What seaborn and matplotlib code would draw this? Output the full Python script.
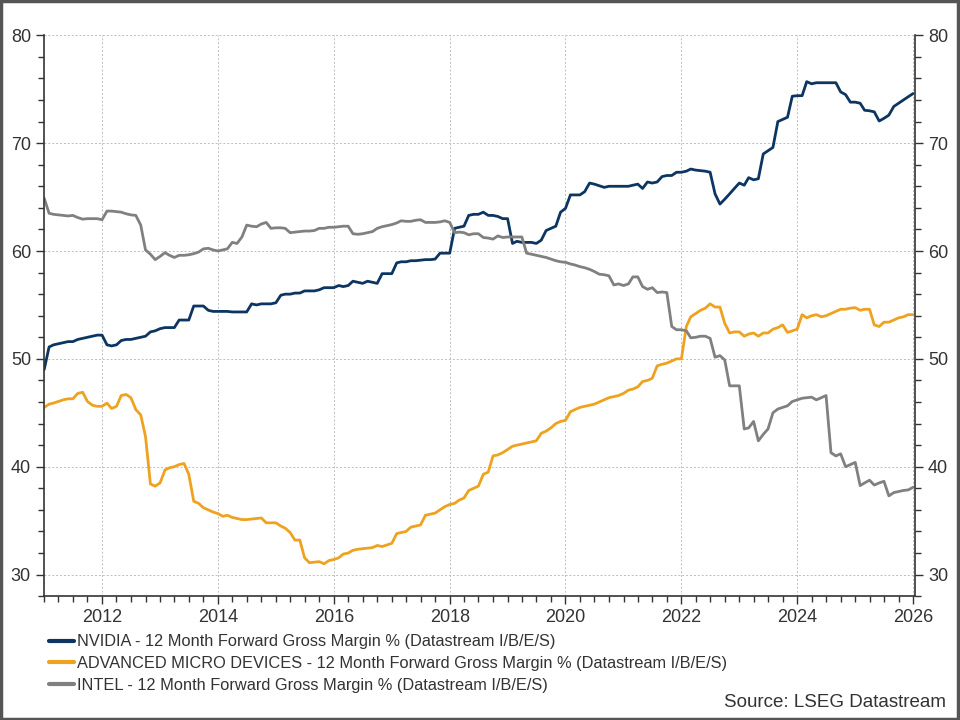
#!/usr/bin/env python3
"""Forward gross margin: NVIDIA vs AMD vs Intel, monthly, 2011-2026."""

import matplotlib
matplotlib.use("Agg")
import matplotlib.dates as mdates
import matplotlib.pyplot as plt
from matplotlib.patches import Rectangle
import numpy as np
import pandas as pd
import seaborn as sns

START = "2011-01-01"

# monthly values, one row per year (Jan..Dec), last row = Jan 2026
nvidia = [
    49.0, 51.1, 51.3, 51.4, 51.5, 51.6, 51.6, 51.8, 51.9, 52.0, 52.1, 52.2,
    52.2, 51.3, 51.2, 51.3, 51.7, 51.8, 51.8, 51.9, 52.0, 52.1, 52.5, 52.6,
    52.8, 52.9, 52.9, 52.9, 53.6, 53.6, 53.6, 54.9, 54.9, 54.9, 54.5, 54.4,
    54.4, 54.4, 54.4, 54.35, 54.35, 54.35, 54.35, 55.1, 55.0, 55.1, 55.1, 55.1,
    55.2, 55.9, 56.0, 56.0, 56.1, 56.1, 56.3, 56.3, 56.3, 56.4, 56.6, 56.6,
    56.6, 56.8, 56.7, 56.8, 57.2, 57.1, 57.0, 57.2, 57.1, 57.0, 57.9, 57.9,
    57.9, 58.9, 59.0, 59.0, 59.1, 59.1, 59.15, 59.2, 59.2, 59.25, 59.8, 59.8,
    59.8, 62.1, 62.2, 62.3, 63.3, 63.4, 63.4, 63.6, 63.3, 63.3, 63.2, 63.0,
    63.0, 60.7, 60.9, 60.8, 60.8, 60.8, 60.7, 61.0, 61.9, 62.1, 62.3, 63.6,
    63.95, 65.2, 65.2, 65.2, 65.5, 66.3, 66.2, 66.05, 65.9, 66.0, 66.0, 66.0,
    66.0, 66.0, 66.1, 66.2, 65.8, 66.4, 66.3, 66.4, 66.9, 67.0, 67.0, 67.3,
    67.3, 67.4, 67.6, 67.5, 67.45, 67.4, 67.3, 65.3, 64.35, 64.8, 65.3, 65.8,
    66.3, 66.1, 66.8, 66.6, 66.7, 69.0, 69.3, 69.6, 72.0, 72.2, 72.4, 74.35,
    74.4, 74.4, 75.7, 75.5, 75.6, 75.6, 75.6, 75.6, 75.6, 74.75, 74.5, 73.8,
    73.8, 73.7, 73.05, 73.0, 72.9, 72.05, 72.3, 72.6, 73.4, 73.7, 74.0, 74.3,
    74.6,
]

amd = [
    45.5, 45.8, 45.9, 46.05, 46.2, 46.3, 46.3, 46.8, 46.9, 46.05, 45.7, 45.6,
    45.6, 45.9, 45.4, 45.6, 46.6, 46.7, 46.4, 45.3, 44.8, 42.8, 38.4, 38.2,
    38.5, 39.7, 39.9, 40.0, 40.2, 40.3, 39.3, 36.8, 36.6, 36.2, 36.0, 35.8,
    35.65, 35.4, 35.5, 35.3, 35.2, 35.1, 35.1, 35.15, 35.2, 35.25, 34.8, 34.8,
    34.8, 34.5, 34.3, 33.9, 33.2, 33.2, 31.55, 31.1, 31.15, 31.2, 31.0, 31.3,
    31.4, 31.55, 31.9, 32.0, 32.25, 32.35, 32.4, 32.45, 32.5, 32.7, 32.6, 32.75,
    32.9, 33.8, 33.9, 34.0, 34.4, 34.5, 34.6, 35.5, 35.6, 35.7, 36.0, 36.3,
    36.5, 36.6, 36.9, 37.1, 37.8, 38.0, 38.2, 39.3, 39.5, 41.0, 41.1, 41.3,
    41.6, 41.9, 42.0, 42.1, 42.2, 42.3, 42.4, 43.1, 43.3, 43.6, 44.0, 44.2,
    44.3, 45.1, 45.3, 45.5, 45.6, 45.7, 45.8, 46.0, 46.2, 46.4, 46.5, 46.6,
    46.8, 47.1, 47.2, 47.4, 47.9, 48.0, 48.2, 49.35, 49.5, 49.6, 49.8, 50.0,
    50.0, 53.0, 53.9, 54.2, 54.5, 54.7, 55.1, 54.8, 54.8, 53.3, 52.4, 52.5,
    52.5, 52.1, 52.3, 52.4, 52.1, 52.4, 52.4, 52.75, 52.9, 53.15, 52.45, 52.6,
    52.75, 54.1, 53.8, 54.0, 54.1, 53.9, 54.0, 54.2, 54.4, 54.6, 54.6, 54.7,
    54.75, 54.5, 54.6, 54.6, 53.15, 53.0, 53.4, 53.4, 53.6, 53.8, 53.9, 54.1,
    54.1,
]

intel = [
    64.9, 63.5, 63.4, 63.35, 63.3, 63.25, 63.3, 63.1, 62.95, 63.0, 63.0, 63.0,
    62.9, 63.7, 63.7, 63.65, 63.6, 63.45, 63.35, 63.3, 62.4, 60.1, 59.7, 59.2,
    59.5, 59.85, 59.6, 59.4, 59.6, 59.6, 59.65, 59.75, 59.9, 60.2, 60.25, 60.1,
    60.0, 60.1, 60.2, 60.8, 60.7, 61.3, 62.4, 62.3, 62.25, 62.5, 62.65, 62.1,
    62.15, 62.15, 62.1, 61.7, 61.75, 61.8, 61.85, 61.85, 61.9, 62.1, 62.1, 62.2,
    62.2, 62.25, 62.3, 62.3, 61.6, 61.55, 61.6, 61.7, 61.8, 62.1, 62.25, 62.35,
    62.45, 62.6, 62.8, 62.75, 62.75, 62.85, 62.9, 62.65, 62.65, 62.65, 62.7, 62.8,
    62.65, 61.7, 61.75, 61.7, 61.5, 61.6, 61.6, 61.25, 61.2, 61.1, 61.4, 61.25,
    61.3, 61.3, 61.3, 61.3, 59.8, 59.7, 59.6, 59.5, 59.4, 59.25, 59.1, 59.0,
    58.95, 58.8, 58.7, 58.55, 58.45, 58.3, 58.1, 57.85, 57.8, 57.7, 56.85, 56.95,
    56.8, 56.95, 57.6, 57.6, 56.7, 56.45, 56.6, 56.15, 56.2, 56.15, 53.0, 52.7,
    52.7, 52.6, 51.95, 52.0, 52.1, 52.1, 51.9, 50.15, 50.3, 49.9, 47.5, 47.5,
    47.5, 43.5, 43.6, 44.2, 42.4, 43.0, 43.5, 45.0, 45.35, 45.5, 45.65, 46.05,
    46.2, 46.35, 46.4, 46.45, 46.2, 46.4, 46.6, 41.3, 41.0, 41.2, 40.0, 40.2,
    40.4, 38.25, 38.5, 38.75, 38.3, 38.5, 38.65, 37.3, 37.6, 37.7, 37.8, 37.85,
    38.1,
]

labels = [
    "NVIDIA - 12 Month Forward Gross Margin % (Datastream I/B/E/S)",
    "ADVANCED MICRO DEVICES - 12 Month Forward Gross Margin % (Datastream I/B/E/S)",
    "INTEL - 12 Month Forward Gross Margin % (Datastream I/B/E/S)",
]
colors = ["#0c3561", "#eea21f", "#808080"]

dates = pd.date_range(START, periods=len(nvidia), freq="MS")
df = pd.concat(
    [
        pd.DataFrame({"date": dates, "value": vals, "series": lab})
        for vals, lab in zip([nvidia, amd, intel], labels)
    ],
    ignore_index=True,
)

sns.set_style("white")
plt.rcParams["font.family"] = ["Liberation Sans", "DejaVu Sans"]

fig = plt.figure(figsize=(9.6, 7.2), dpi=100)
ax = fig.add_axes([0.046, 0.172, 0.907, 0.779])

sns.lineplot(
    data=df, x="date", y="value", hue="series", hue_order=labels,
    palette=colors, linewidth=2.0, ax=ax, legend=False,
)

ax.set_xlim(pd.Timestamp("2011-01-01"), pd.Timestamp("2026-01-12"))
ax.set_ylim(28, 80)
ax.set_xlabel("")
ax.set_ylabel("")

ax.xaxis.set_major_locator(mdates.YearLocator(2))
ax.xaxis.set_major_formatter(mdates.DateFormatter("%Y"))
ax.xaxis.set_minor_locator(mdates.MonthLocator(bymonth=[1, 4, 7, 10]))
ax.set_yticks(np.arange(30, 81, 10))
ax.set_yticks(np.arange(28, 81, 2), minor=True)

ax.grid(True, which="major", color="#bdbdbd", linestyle=(0, (2, 2)), linewidth=0.7)
ax.tick_params(axis="both", which="both", direction="out", colors="#333333",
               labelcolor="#333333", labelsize=13)
ax.tick_params(axis="y", which="both", left=True, right=True, labelleft=True, labelright=True)
ax.tick_params(axis="x", which="both", bottom=True)
ax.tick_params(which="major", length=6, width=1)
ax.tick_params(which="minor", length=4, width=1)

for side in ("left", "right", "bottom"):
    ax.spines[side].set_color("#333333")
    ax.spines[side].set_linewidth(1.2)
ax.spines["top"].set_visible(False)

handles = [plt.Line2D([], [], color=c, linewidth=3) for c in colors]
fig.legend(
    handles, labels, loc="upper left", bbox_to_anchor=(0.051, 0.119),
    frameon=False, fontsize=11.8, handlelength=1.5, handletextpad=0.2,
    labelspacing=0.42, borderpad=0, borderaxespad=0, labelcolor="#333333",
)

fig.text(0.985, 0.0125, "Source: LSEG Datastream", ha="right", va="bottom",
         fontsize=13.5, color="#333333")

fig.patches.append(Rectangle((0.001, 0.001), 0.997, 0.997, transform=fig.transFigure,
                             fill=False, edgecolor="#555555", linewidth=2.5))

fig.savefig("out.png", dpi=100)
